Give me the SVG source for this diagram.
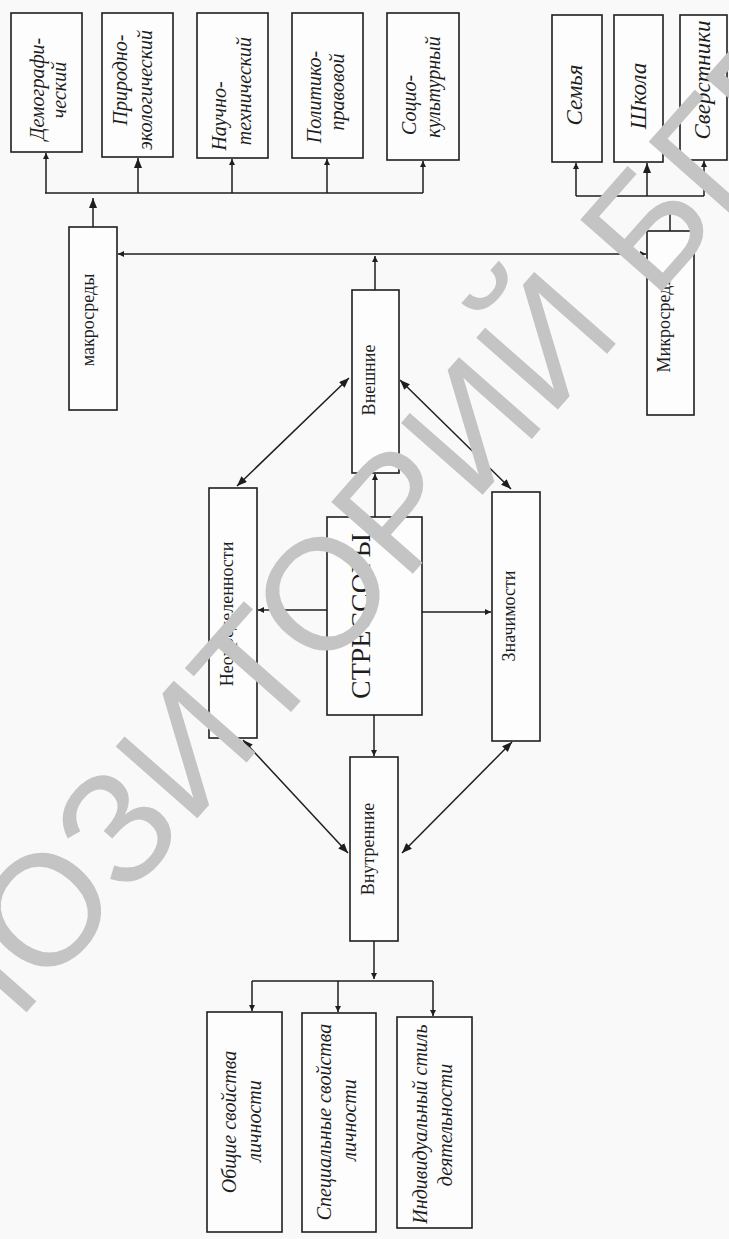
<svg xmlns="http://www.w3.org/2000/svg" width="729" height="1239" viewBox="0 0 729 1239">
<style>
.box{fill:#fdfdfd;stroke:#1e1e1e;stroke-width:1.6}
.ln{fill:none;stroke:#1e1e1e;stroke-width:1.5}
.it{font-family:"Liberation Serif","Times New Roman",serif;font-style:italic;font-size:20px;fill:#1e1e1e;text-anchor:middle}
.mi{font-family:"Liberation Serif","Times New Roman",serif;font-style:italic;font-size:23px;fill:#1e1e1e;text-anchor:middle}
.rg{font-family:"Liberation Serif","Times New Roman",serif;font-size:18px;fill:#1e1e1e;text-anchor:middle}
.big{font-family:"Liberation Serif","Times New Roman",serif;font-size:28px;fill:#1e1e1e;text-anchor:middle}
.wm{font-family:"Liberation Sans",Arial,sans-serif;font-size:158px;fill:#c4c4c4}
</style>
<defs>
<marker id="sa" viewBox="0 0 6 6" refX="6" refY="3" markerWidth="6" markerHeight="6" markerUnits="userSpaceOnUse" orient="auto"><path d="M0,0L6,3L0,6z" fill="#1e1e1e"/></marker>
<marker id="ba" viewBox="0 0 10 8" refX="10" refY="4" markerWidth="10" markerHeight="8" markerUnits="userSpaceOnUse" orient="auto"><path d="M0,0L10,4L0,8z" fill="#1e1e1e"/></marker>
<marker id="da" viewBox="0 0 10 8" refX="10" refY="4" markerWidth="10" markerHeight="8" markerUnits="userSpaceOnUse" orient="auto-start-reverse"><path d="M0,0L10,4L0,8z" fill="#1e1e1e"/></marker>
</defs>
<rect x="0" y="0" width="729" height="1239" fill="#f9f9f9"/>

<g id="connectors" class="ln">
  <path d="M45,193H423"/>
  <path d="M46,193V153" marker-end="url(#sa)"/>
  <path d="M138,193V158" marker-end="url(#ba)"/>
  <path d="M232,193V159" marker-end="url(#sa)"/>
  <path d="M327,193V159" marker-end="url(#sa)"/>
  <path d="M423,193V161" marker-end="url(#sa)"/>
  <path d="M93,227V198" marker-end="url(#ba)"/>
  <path d="M375,254H118" marker-end="url(#sa)"/>
  <path d="M375,254H646" marker-end="url(#sa)"/>
  <path d="M375,290V256" marker-end="url(#sa)"/>
  <path d="M576,196H704"/>
  <path d="M576,196V163" marker-end="url(#sa)"/>
  <path d="M647,196V163" marker-end="url(#ba)"/>
  <path d="M704,196V161" marker-end="url(#sa)"/>
  <path d="M670,231V203" marker-end="url(#ba)"/>
  <path d="M375,517V474" marker-end="url(#sa)"/>
  <path d="M374,715V756" marker-end="url(#sa)"/>
  <path d="M327,610H258" marker-end="url(#sa)"/>
  <path d="M422,612H491" marker-end="url(#sa)"/>
  <path d="M237,486L349,378" marker-start="url(#da)" marker-end="url(#da)"/>
  <path d="M400,380L511,489" marker-start="url(#da)" marker-end="url(#da)"/>
  <path d="M243,740L348,853" marker-start="url(#da)" marker-end="url(#da)"/>
  <path d="M512,742L402,853" marker-start="url(#da)" marker-end="url(#da)"/>
  <path d="M374,941V979" marker-end="url(#sa)"/>
  <path d="M252,981H433"/>
  <path d="M252,981V1011" marker-end="url(#sa)"/>
  <path d="M338,981V1012" marker-end="url(#sa)"/>
  <path d="M433,981V1016" marker-end="url(#sa)"/>
</g>

<g id="demograficheskiy">
  <rect class="box" x="11" y="13" width="71" height="139"/>
  <text class="it" transform="translate(44,89) rotate(-90)">Демографи-</text>
  <text class="it" transform="translate(66,90) rotate(-90)">ческий</text>
</g>
<g id="prirodno">
  <rect class="box" x="102" y="13" width="71" height="144"/>
  <text class="it" transform="translate(127,80) rotate(-90)">Природно-</text>
  <text class="it" transform="translate(152,90) rotate(-90)">экологический</text>
</g>
<g id="nauchno">
  <rect class="box" x="197" y="13" width="71" height="145"/>
  <text class="it" transform="translate(226,116) rotate(-90)">Научно-</text>
  <text class="it" transform="translate(251,91) rotate(-90)">технический</text>
</g>
<g id="politiko">
  <rect class="box" x="292" y="13" width="71" height="145"/>
  <text class="it" transform="translate(321,97) rotate(-90)">Политико-</text>
  <text class="it" transform="translate(344,92) rotate(-90)">правовой</text>
</g>
<g id="socio">
  <rect class="box" x="387" y="13" width="72" height="147"/>
  <text class="it" transform="translate(416,105) rotate(-90)">Социо-</text>
  <text class="it" transform="translate(440,87) rotate(-90)">культурный</text>
</g>

<g id="semya">
  <rect class="box" x="552" y="15" width="50" height="147"/>
  <text class="mi" transform="translate(582,95) rotate(-90)">Семья</text>
</g>
<g id="shkola">
  <rect class="box" x="614" y="15" width="49" height="147"/>
  <text class="mi" transform="translate(646,96) rotate(-90)">Школа</text>
</g>
<g id="sverstniki">
  <rect class="box" x="680" y="15" width="47" height="145"/>
  <text class="mi" transform="translate(710,80) rotate(-90)">Сверстники</text>
</g>

<g id="makrosredy">
  <rect class="box" x="69" y="227" width="48" height="183"/>
  <text class="rg" transform="translate(94,320) rotate(-90)">макросреды</text>
</g>
<g id="mikrosredy">
  <rect class="box" x="647" y="231" width="47" height="184"/>
  <text class="rg" transform="translate(670,323) rotate(-90)">Микросреды</text>
</g>
<g id="vneshnie">
  <rect class="box" x="352" y="290" width="47" height="183"/>
  <text class="rg" transform="translate(375,380) rotate(-90)">Внешние</text>
</g>
<g id="neopredelennosti">
  <rect class="box" x="209" y="488" width="48" height="250"/>
  <text class="rg" transform="translate(233,614) rotate(-90)">Неопределенности</text>
</g>
<g id="stressory">
  <rect class="box" x="327" y="517" width="95" height="198"/>
  <text class="big" transform="translate(370,616) rotate(-90)">СТРЕССОРЫ</text>
</g>
<g id="znachimosti">
  <rect class="box" x="492" y="492" width="48" height="249"/>
  <text class="rg" transform="translate(515,616) rotate(-90)">Значимости</text>
</g>
<g id="vnutrennie">
  <rect class="box" x="350" y="757" width="48" height="184"/>
  <text class="rg" transform="translate(374,849) rotate(-90)">Внутренние</text>
</g>

<g id="obshie">
  <rect class="box" x="207" y="1012" width="75" height="220"/>
  <text class="it" transform="translate(236,1122) rotate(-90)">Общие свойства</text>
  <text class="it" transform="translate(261,1121) rotate(-90)">личности</text>
</g>
<g id="specialnye">
  <rect class="box" x="302" y="1013" width="74" height="219"/>
  <text class="it" transform="translate(331,1122) rotate(-90)">Специальные свойства</text>
  <text class="it" transform="translate(356,1120) rotate(-90)">личности</text>
</g>
<g id="individualnyy">
  <rect class="box" x="397" y="1017" width="75" height="211"/>
  <text class="it" transform="translate(427,1124) rotate(-90)">Индивидуальный стиль</text>
  <text class="it" transform="translate(452,1125) rotate(-90)">деятельности</text>
</g>

<text class="wm" transform="translate(-170,1235) rotate(-48.6)">РЕПОЗИТОРИЙ БГПУ</text>
</svg>
